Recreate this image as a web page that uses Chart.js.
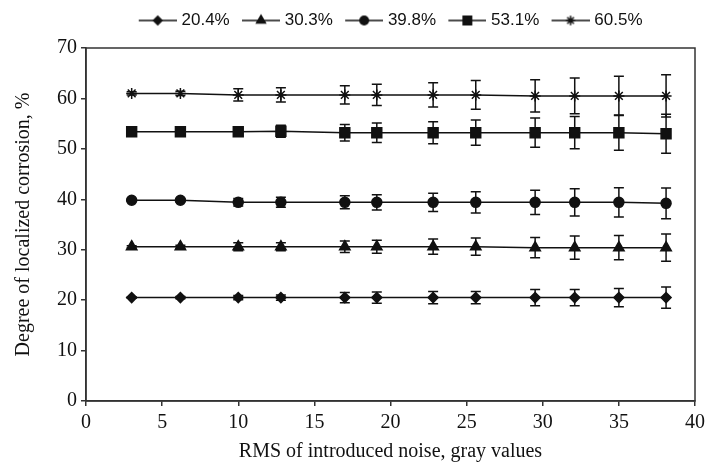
<!DOCTYPE html>
<html>
<head>
<meta charset="utf-8">
<script src="https://cdn.jsdelivr.net/npm/chart.js@4.4.0/dist/chart.umd.min.js"></script>
<style>
  html, body { margin: 0; padding: 0; background: #fff; }
  #wrap { width: 712px; height: 467px; }
</style>
</head>
<body>
<div id="wrap"><canvas id="chart"></canvas></div>
<script>
// RMS noise levels (x)
const noise = [3, 6.2, 10, 12.8, 17, 19.1, 22.8, 25.6, 29.5, 32.1, 35, 38.1];

const seriesNames = ['20.4%', '30.3%', '39.8%', '53.1%', '60.5%'];

// degree of localized corrosion, %
const s204 = [20.5, 20.5, 20.5, 20.5, 20.5, 20.5, 20.5, 20.5, 20.5, 20.5, 20.5, 20.5];
const s303 = [30.6, 30.6, 30.6, 30.6, 30.6, 30.6, 30.6, 30.6, 30.4, 30.4, 30.4, 30.4];
const s398 = [39.8, 39.8, 39.4, 39.4, 39.4, 39.4, 39.4, 39.4, 39.4, 39.4, 39.4, 39.2];
const s531 = [53.4, 53.4, 53.4, 53.5, 53.2, 53.2, 53.2, 53.2, 53.2, 53.2, 53.2, 53.0];
const s605 = [61.0, 61.0, 60.7, 60.7, 60.7, 60.7, 60.7, 60.7, 60.5, 60.5, 60.5, 60.5];

// error bar half-widths
const e204 = [0.1, 0.2, 0.4, 0.5, 1.0, 1.1, 1.2, 1.2, 1.6, 1.6, 1.8, 2.1];
const e303 = [0.2, 0.3, 0.8, 0.8, 1.15, 1.3, 1.5, 1.7, 2.0, 2.3, 2.4, 2.7];
const e398 = [0.2, 0.3, 0.75, 1.0, 1.3, 1.5, 1.8, 2.1, 2.4, 2.7, 2.9, 3.05];
const e531 = [0.2, 0.3, 0.75, 1.2, 1.65, 1.95, 2.2, 2.5, 2.9, 3.2, 3.5, 3.85];
const e605 = [0.3, 0.4, 1.2, 1.4, 1.8, 2.1, 2.4, 2.85, 3.2, 3.55, 3.9, 4.2];

const values = [s204, s303, s398, s531, s605];
const errors = [e204, e303, e398, e531, e605];
const markers = ['rectRot', 'triangle', 'circle', 'rect', 'star'];
const radii = [5, 6, 5, 7, 5.5];

const ink = '#111';
const serif = "'Liberation Serif', 'Times New Roman', serif";

// legend sample: short line with the marker in the middle
function legendIcon(style, r) {
  const c = document.createElement('canvas');
  c.width = 42; c.height = 16;
  const ctx = c.getContext('2d');
  ctx.strokeStyle = ink;
  ctx.fillStyle = ink;
  ctx.lineWidth = 1.5;
  ctx.beginPath();
  ctx.moveTo(4, 8); ctx.lineTo(42, 8);
  ctx.stroke();
  Chart.helpers.drawPoint(ctx, { pointStyle: style, radius: r * 0.85, borderWidth: 1.5, rotation: 0 }, 23, 8);
  return c;
}

const errorBars = {
  id: 'errorBars',
  beforeDatasetsDraw(chart) {
    const ctx = chart.ctx;
    const y = chart.scales.y;
    ctx.save();
    ctx.strokeStyle = ink;
    ctx.lineWidth = 1.5;
    chart.data.datasets.forEach((ds, i) => {
      const meta = chart.getDatasetMeta(i);
      meta.data.forEach((pt, j) => {
        const err = errors[i][j];
        const v = values[i][j];
        const top = y.getPixelForValue(v + err);
        const bot = y.getPixelForValue(v - err);
        ctx.beginPath();
        ctx.moveTo(pt.x, top); ctx.lineTo(pt.x, bot);
        ctx.moveTo(pt.x - 5, top); ctx.lineTo(pt.x + 5, top);
        ctx.moveTo(pt.x - 5, bot); ctx.lineTo(pt.x + 5, bot);
        ctx.stroke();
      });
    });
    ctx.restore();
  }
};

const frame = {
  id: 'frame',
  afterDraw(chart) {
    const a = chart.chartArea;
    const ctx = chart.ctx;
    ctx.save();
    ctx.strokeStyle = '#333';
    ctx.lineWidth = 1.5;
    ctx.strokeRect(a.left, a.top, a.right - a.left, a.bottom - a.top);
    ctx.restore();
  }
};

new Chart(document.getElementById('chart'), {
  type: 'line',
  data: {
    datasets: seriesNames.map((name, i) => ({
      label: name,
      data: noise.map((x, j) => ({ x: x, y: values[i][j] })),
      borderColor: ink,
      backgroundColor: ink,
      borderWidth: 1.5,
      pointStyle: markers[i],
      pointRadius: radii[i],
      pointBorderWidth: 1.5,
      pointBackgroundColor: ink,
      pointBorderColor: ink,
      tension: 0
    }))
  },
  options: {
    responsive: true,
    maintainAspectRatio: false,
    animation: false,
    layout: { padding: { top: 0, right: 17, bottom: 0, left: 10 } },
    plugins: {
      tooltip: { enabled: false },
      legend: {
        position: 'top',
        fullSize: false,
        labels: {
          usePointStyle: true,
          pointStyleWidth: 34.5,
          padding: 12,
          color: ink,
          font: { family: "'Liberation Sans', Arial, sans-serif", size: 17 },
          generateLabels(chart) {
            return chart.data.datasets.map((ds, i) => ({
              text: ds.label,
              datasetIndex: i,
              pointStyle: legendIcon(markers[i], radii[i]),
              fillStyle: ink,
              strokeStyle: ink,
              lineWidth: 0,
              fontColor: ink
            }));
          }
        }
      }
    },
    scales: {
      x: {
        type: 'linear',
        min: 0,
        max: 40,
        ticks: { stepSize: 5, color: ink, padding: 5, font: { family: serif, size: 20 } },
        grid: { drawOnChartArea: false, drawTicks: true, tickLength: 5, color: '#333', lineWidth: 1.5 },
        border: { color: '#333', width: 1.5 },
        title: { display: true, text: 'RMS of introduced noise, gray values', color: ink, padding: { top: 0, bottom: 3 }, font: { family: serif, size: 20 } },
        afterFit(scale) { scale.height = 66; }
      },
      // empty spacer below the legend
      xTop: {
        type: 'linear',
        position: 'top',
        min: 0,
        max: 40,
        ticks: { display: false },
        grid: { display: false },
        border: { display: false },
        afterFit(scale) { scale.height = 9; }
      },
      y: {
        min: 0,
        max: 70,
        ticks: { stepSize: 10, color: ink, padding: 4, font: { family: serif, size: 20 } },
        grid: { drawOnChartArea: false, drawTicks: true, tickLength: 5, color: '#333', lineWidth: 1.5 },
        border: { color: '#333', width: 1.5 },
        title: { display: true, text: 'Degree of localized corrosion, %', color: ink, padding: 2, font: { family: serif, size: 20 } },
        afterFit(scale) { scale.width = 76; }
      }
    }
  },
  plugins: [errorBars, frame]
});
</script>
</body>
</html>
